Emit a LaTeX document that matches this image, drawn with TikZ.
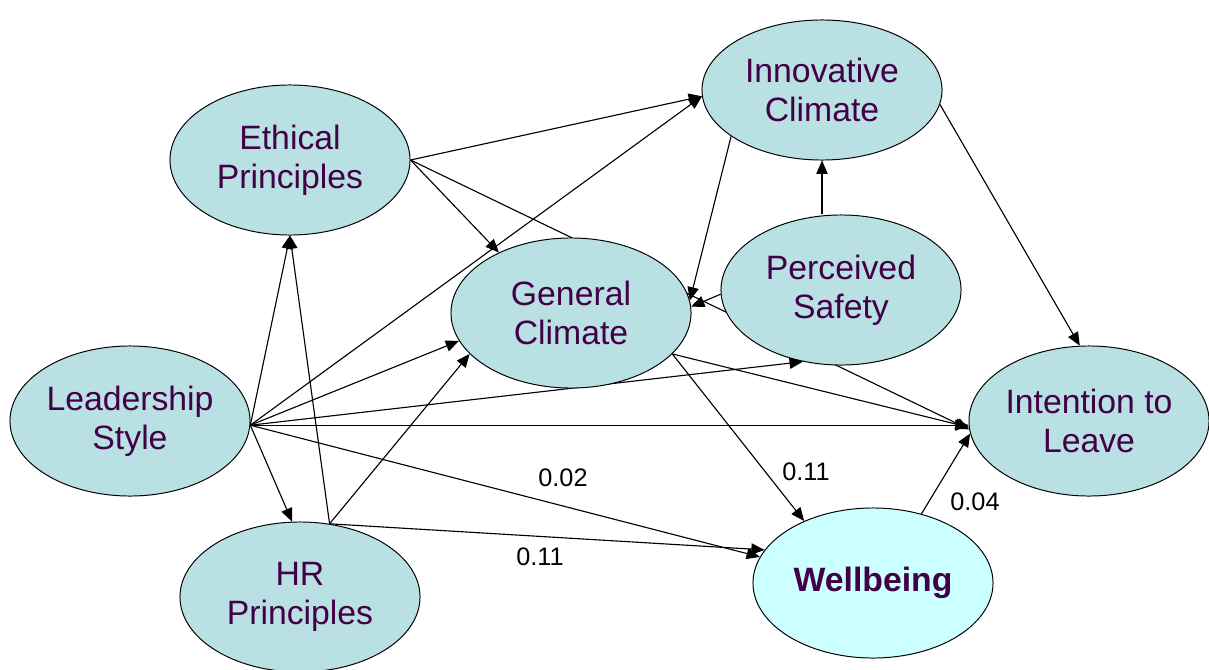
\documentclass[tikz,border=0pt]{standalone}
\usepackage{fontspec}
\setmainfont{Liberation Sans}
\usetikzlibrary{shapes.geometric,arrows.meta,backgrounds}
\definecolor{bleuvert}{RGB}{185,224,227}
\definecolor{cyanclair}{RGB}{204,255,255}
\definecolor{texteviolet}{RGB}{66,0,70}
\tikzset{
  varbox/.style={ellipse, draw, line width=0.7pt, fill=bleuvert,
    minimum width=6cm, minimum height=3.75cm, inner sep=0pt,
    align=center, text=texteviolet, font=\fontsize{24}{28}\selectfont},
  fleche/.style={-{Triangle[length=9.5pt,width=8pt]}, line width=0.8pt},
  coef/.style={font=\fontsize{18}{20}\selectfont}
}
\begin{document}
\begin{tikzpicture}[x=0.025cm,y=-0.025cm]
\useasboundingbox (0,0) rectangle (1209,670);
% variables du modele
\node[varbox, minimum height=3.5cm] (inn) at (822,90) {Innovative\\Climate};
\node[varbox] (eth) at (290,160) {Ethical\\Principles};
\node[varbox] (gen) at (571,313) {General\\Climate};
\node[varbox] (saf) at (841,290) {Perceived\\Safety};
\node[varbox] (lead) at (130,421) {Leadership\\Style};
\node[varbox] (int) at (1089,421) {Intention to\\Leave};
\node[varbox] (hr) at (300,597) {HR\\Principles};
\node[varbox, fill=cyanclair, font=\fontsize{24}{28}\selectfont\bfseries] (well) at (873,583) {Wellbeing};
%
% coefficients
\node[coef] (c1) at (563,478) {0.02};
\node[coef] (c2) at (540,557) {0.11};
\node[coef] (c3) at (806,472) {0.11};
\node[coef] (c4) at (975,502) {0.04};
%
\begin{pgfonlayer}{background}
% depuis Ethical Principles
\draw[fleche] (eth.east) -- (inn.183);
\draw[fleche] (eth.east) -- (gen.140);
\draw[fleche] (eth.east) -- (int.184); % passe sous les ellipses
% depuis Leadership Style
\draw[fleche] (lead.-2) -- (inn.183);
\draw[fleche] (lead.-2) -- (eth.south);
\draw[fleche] (lead.-2) -- (gen.194);
\draw[fleche] (lead.-2) -- (saf.242);
\draw[fleche] (lead.-2) -- (int.182);
\draw[fleche] (lead.-2) -- (well.167);
\draw[fleche] (lead.-2) -- (hr.96);
% depuis HR Principles
\draw[fleche] (hr.68) -- (eth.south);
\draw[fleche] (hr.68) -- (gen.202);
\draw[fleche] (hr.68) -- (well.163);
% climats et securite
\draw[fleche] (inn.207) -- (gen.6);
\draw[fleche] (saf.182) -- (gen.3);
\draw[fleche] (inn.south |- saf.north) -- (inn.south);
\draw[fleche] (inn.-7) -- (int.97);
\draw[fleche] (gen.-22) -- (int.183);
\draw[fleche] (gen.-22) -- (well.138);
\draw[fleche] (well.55) -- (int.186);
\end{pgfonlayer}
\end{tikzpicture}
\end{document}
